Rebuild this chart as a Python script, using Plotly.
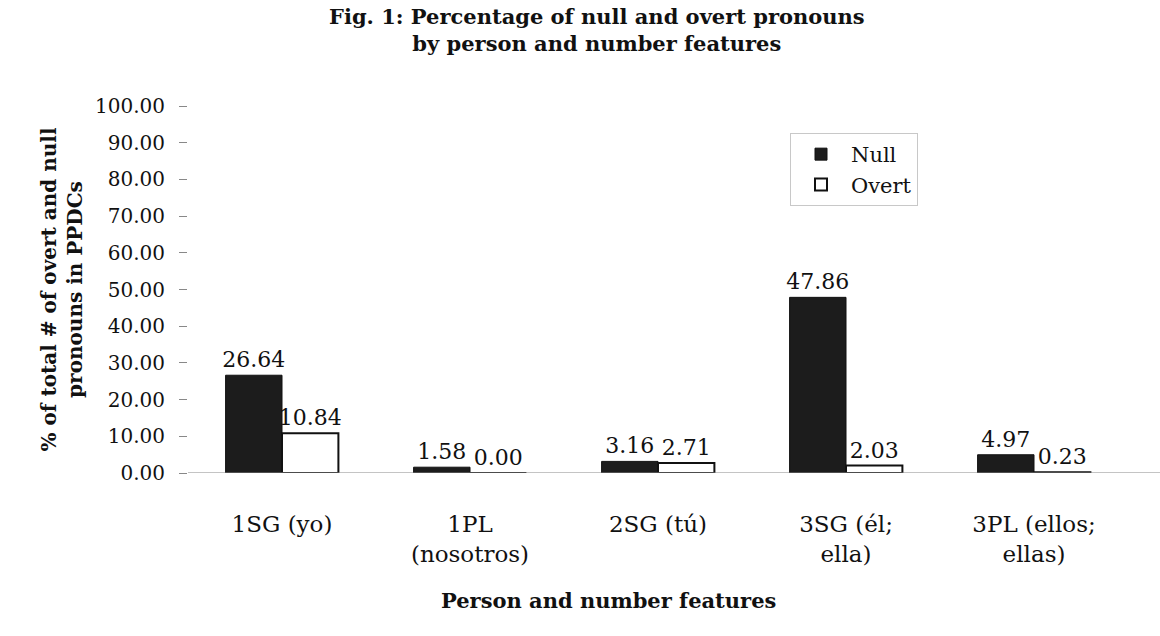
import plotly.graph_objects as go

# Person / number categories and the share (%) of null and overt pronouns
categories = ["1SG (yo)", "1PL<br>(nosotros)", "2SG (tú)", "3SG (él;<br>ella)", "3PL (ellos;<br>ellas)"]
null_pct = [26.64, 1.58, 3.16, 47.86, 4.97]
overt_pct = [10.84, 0.00, 2.71, 2.03, 0.23]
y_ticks = [0, 10, 20, 30, 40, 50, 60, 70, 80, 90, 100]

SERIF = "DejaVu Serif, Liberation Serif, serif"
INK = "#111111"

# plot-area geometry in pixels (used to place the caption and axis title)
PLOT_TOP, PLOT_BOTTOM = 106, 473
PLOT_LEFT, PLOT_RIGHT = 188, 1128


def paper_y(px):
    return (PLOT_BOTTOM - px) / (PLOT_BOTTOM - PLOT_TOP)


def paper_x(px):
    return (px - PLOT_LEFT) / (PLOT_RIGHT - PLOT_LEFT)


fig = go.Figure()
fig.add_trace(go.Bar(
    name="Null", x=categories, y=null_pct,
    marker=dict(color="#1c1c1c", line=dict(color=INK, width=1)),
    text=[f"{v:.2f}" for v in null_pct], textposition="outside",
    textfont=dict(family=SERIF, size=22, color=INK),
    constraintext="none", cliponaxis=False,
))
fig.add_trace(go.Bar(
    name="Overt", x=categories, y=overt_pct,
    marker=dict(color="white", line=dict(color=INK, width=2)),
    text=[f"{v:.2f}" for v in overt_pct], textposition="outside",
    textfont=dict(family=SERIF, size=22, color=INK),
    constraintext="none", cliponaxis=False,
))

fig.update_layout(
    width=1160, height=636,
    margin=dict(l=PLOT_LEFT, r=1160 - PLOT_RIGHT, t=PLOT_TOP, b=636 - PLOT_BOTTOM),
    paper_bgcolor="white", plot_bgcolor="white",
    barmode="group", bargap=0.40, bargroupgap=0.0,
    font=dict(family=SERIF, size=20, color=INK),
    legend=dict(
        x=paper_x(790), y=paper_y(133), xanchor="left", yanchor="top",
        font=dict(family=SERIF, size=21, color=INK),
        bgcolor="white", bordercolor="#c8c8c8", borderwidth=1,
        itemwidth=50, tracegroupgap=0,
    ),
    showlegend=True,
)

# two-line figure caption above the plot
fig.add_annotation(
    text="<b>Fig. 1: Percentage of null and overt pronouns<br>by person and number features</b>",
    xref="paper", yref="paper", x=paper_x(597), y=paper_y(2),
    xanchor="center", yanchor="top", showarrow=False, align="center",
    font=dict(family=SERIF, size=21, color=INK),
)

# category-axis title
fig.add_annotation(
    text="<b>Person and number features</b>", xref="paper", yref="paper",
    x=paper_x(608), y=paper_y(600), xanchor="center", yanchor="middle",
    showarrow=False, font=dict(family=SERIF, size=21, color=INK),
)

# baseline running along the category axis
fig.add_shape(
    type="line", xref="paper", yref="y", x0=0, x1=paper_x(1160), y0=0, y1=0,
    line=dict(color="#888888", width=1),
)

fig.update_xaxes(
    showgrid=False, showline=False,
    ticks="outside", ticklen=30, tickcolor="rgba(0,0,0,0)",
    tickfont=dict(family=SERIF, size=23, color=INK),
)
fig.update_yaxes(
    range=[0, 100], tickvals=y_ticks, tickformat=".2f",
    showgrid=False, zeroline=False, showline=False,
    ticks="outside", ticklen=8, tickcolor="#888888", ticklabelstandoff=10,
    tickfont=dict(family=SERIF, size=20, color=INK),
    title=dict(text="<b>% of total # of overt and null<br>pronouns in PPDCs</b>", standoff=7,
               font=dict(family=SERIF, size=20, color=INK)),
)

fig.write_html("out.html")
